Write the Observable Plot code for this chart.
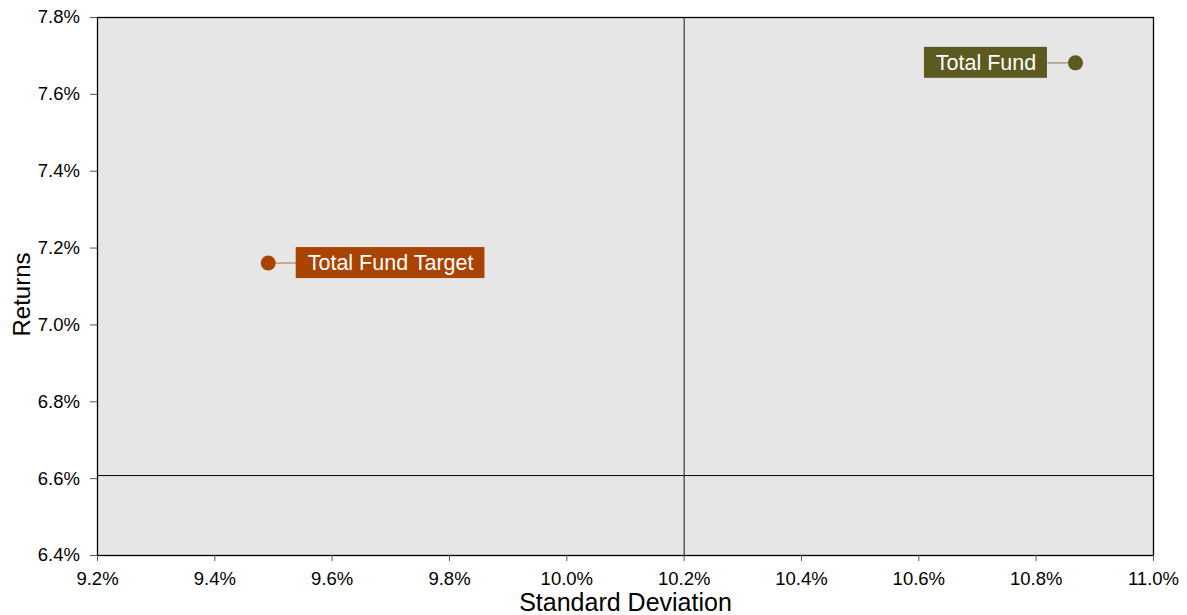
<!DOCTYPE html>
<html><head><meta charset="utf-8">
<script src="https://cdn.jsdelivr.net/npm/d3@7"></script>
<script src="https://cdn.jsdelivr.net/npm/@observablehq/plot@0.6"></script>
<style>body{margin:0;background:#fff;}</style>
</head><body><div id="chart"></div>
<script>
// ---- data ----
const names = ["Total Fund", "Total Fund Target"];
const stdDev = [10.867, 9.491];
const returns = [7.682, 7.161];
const colors = ["#5C5A1F", "#A84300"];
const xTicks = [9.2, 9.4, 9.6, 9.8, 10.0, 10.2, 10.4, 10.6, 10.8, 11.0];
const yTicks = [6.4, 6.6, 6.8, 7.0, 7.2, 7.4, 7.6, 7.8];
const refStdDev = [10.2];
const refReturn = [6.608];
const xTitle = "Standard Deviation";
const yTitle = "Returns";

// ---- layout / style ----
const W = 1187, H = 615, mL = 97, mR = 34, mT = 17, mB = 60;
const FONT = "'Liberation Sans', Arial, Helvetica, sans-serif";
const xDom = [xTicks[0], xTicks[xTicks.length - 1]];
const yDom = [yTicks[0], yTicks[yTicks.length - 1]];
const fmt = d => d.toFixed(1) + "%";
const pxX = (xDom[1] - xDom[0]) / (W - mL - mR);
const pxY = (yDom[1] - yDom[0]) / (H - mT - mB);
const ctx = document.createElement("canvas").getContext("2d");
const measure = (t, size) => { ctx.font = `${size}px ${FONT}`; return ctx.measureText(t).width; };

const LABEL_FS = 21.5, PAD = 11.3, GAP = 28, BOX_H = 31;
const data = names.map((name, i) => {
  const side = stdDev[i] > (xDom[0] + xDom[1]) / 2 ? -1 : 1;
  const boxW = measure(name, LABEL_FS) + 2 * PAD;
  const near = stdDev[i] + side * GAP * pxX;
  const far = near + side * boxW * pxX;
  return {
    name, sd: stdDev[i], ret: returns[i], color: colors[i],
    near, far, mid: (near + far) / 2,
    y1: returns[i] - BOX_H / 2 * pxY, y2: returns[i] + BOX_H / 2 * pxY
  };
});

const chart = Plot.plot({
  width: W, height: H,
  marginLeft: mL, marginRight: mR, marginTop: mT, marginBottom: mB,
  style: {fontFamily: FONT, fontSize: "18.5px", color: "#000", background: "#fff", overflow: "visible"},
  x: {domain: xDom},
  y: {domain: yDom},
  marks: [
    Plot.frame({fill: "#E6E6E6", stroke: null}),
    Plot.ruleX(refStdDev, {stroke: "#3a3a3a", strokeWidth: 1.2}),
    Plot.ruleY(refReturn, {stroke: "#000", strokeWidth: 1}),
    Plot.frame({stroke: "#000", strokeWidth: 1.3}),
    Plot.axisX({ticks: xTicks, tickFormat: fmt, tickSize: 6, tickPadding: 10, label: null, fontSize: 18.5, stroke: "#555"}),
    Plot.axisY({ticks: yTicks, tickFormat: fmt, tickSize: 7, tickPadding: 10.5, label: null, fontSize: 18.5, stroke: "#555"}),
    Plot.text([xTitle], {frameAnchor: "bottom", dy: 55, lineAnchor: "bottom", textAnchor: "middle", fontSize: 25, fill: "#000"}),
    Plot.text([yTitle], {frameAnchor: "left", dx: -68, dy: 8, rotate: -90, lineAnchor: "bottom", textAnchor: "middle", fontSize: 24, fill: "#000"}),
    Plot.link(data, {x1: "sd", x2: "near", y1: "ret", y2: "ret", stroke: "color", strokeOpacity: 0.5, strokeWidth: 1.5}),
    Plot.rect(data, {x1: "near", x2: "far", y1: "y1", y2: "y2", fill: "color"}),
    Plot.text(data, {x: "mid", y: "ret", text: "name", fill: "#fff", fontSize: LABEL_FS, textAnchor: "middle"}),
    Plot.dot(data, {x: "sd", y: "ret", r: 7.5, fill: "color", stroke: null})
  ]
});
document.getElementById("chart").appendChild(chart);
</script>
</body></html>
